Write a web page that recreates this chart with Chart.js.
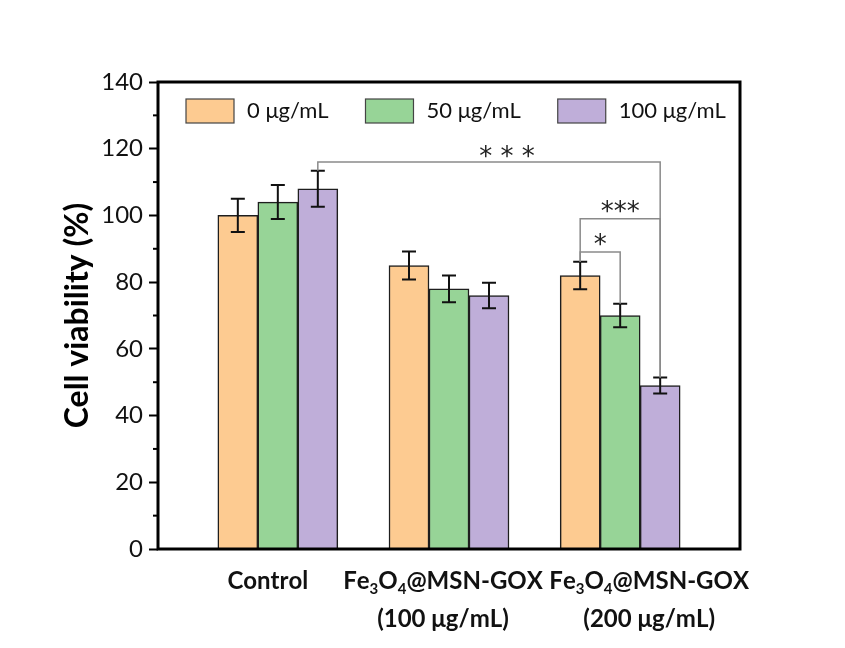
<!DOCTYPE html>
<html><head><meta charset="utf-8">
<script src="https://cdn.jsdelivr.net/npm/chart.js@4.4.0/dist/chart.umd.min.js"></script>
<style>html,body{margin:0;padding:0;background:#fff;}#wrap{width:845px;height:648px;}</style>
</head><body><div id="wrap"><canvas id="c" width="845" height="648"></canvas></div>
<script>
// ---- data ----
const categories = [["Control"], ["Fe₃O₄@MSN-GOX", "(100 μg/mL)"], ["Fe₃O₄@MSN-GOX", "(200 μg/mL)"]];
const seriesNames = ["0 μg/mL", "50 μg/mL", "100 μg/mL"];
const values0 = [100, 85, 82];
const values50 = [104, 78, 70];
const values100 = [108, 76, 49];
const errors0 = [5, 4.2, 4.1];
const errors50 = [5.1, 4, 3.5];
const errors100 = [5.4, 3.8, 2.4];
const yTickValues = [0, 20, 40, 60, 80, 100, 120, 140];
const sigLabels = ["* * *", "***", "*"];
const sigLevels = [116, 99, 89];
const sigFrom = [[2, 0], [0, 2], [0, 2]];
const sigTo = [[2, 2], [2, 2], [1, 2]];

// ---- styles ----
const fills = ["#FDCB91", "#97D497", "#BFAED9"];
const FONT = "Lato, 'Open Sans', sans-serif";
const allValues = [values0, values50, values100];
const allErrors = [errors0, errors50, errors100];

const datasets = seriesNames.map((name, d) => ({
  label: name,
  data: categories.map((c, i) => ({ x: i + 1, y: allValues[d][i] })),
  backgroundColor: fills[d],
  borderColor: "#1e1e1e",
  borderWidth: 1.5,
  borderSkipped: "bottom",
  barThickness: 40
}));

function drawRich(ctx, text, cx, cy, size) {
  const subs = "₀₁₂₃₄₅₆₇₈₉";
  const parts = [];
  for (const ch of text) {
    const si = subs.indexOf(ch);
    if (si >= 0) parts.push({ t: String(si), sub: true });
    else parts.push({ t: ch, sub: false });
  }
  const big = "bold " + size + "px " + FONT;
  const small = "bold " + Math.round(size * 0.62) + "px " + FONT;
  let w = 0;
  parts.forEach(p => { ctx.font = p.sub ? small : big; p.w = ctx.measureText(p.t).width; w += p.w; });
  let x = cx - w / 2;
  ctx.textAlign = "left";
  ctx.textBaseline = "alphabetic";
  const base = cy + size * 0.36;
  parts.forEach(p => {
    ctx.font = p.sub ? small : big;
    ctx.fillText(p.t, x, p.sub ? base + size * 0.22 : base);
    x += p.w;
  });
}

const decor = {
  id: "decor",
  afterDatasetsDraw(chart) {
    const ctx = chart.ctx;
    const ys = chart.scales.y;
    const a = chart.chartArea;
    const topOf = (d, i) => ys.getPixelForValue(allValues[d][i] + allErrors[d][i]);
    const xOf = (d, i) => chart.getDatasetMeta(d).data[i].x;
    ctx.save();
    // error bars
    ctx.strokeStyle = "#111";
    ctx.lineWidth = 2;
    for (let d = 0; d < 3; d++) {
      for (let i = 0; i < categories.length; i++) {
        const x = xOf(d, i);
        const y1 = ys.getPixelForValue(allValues[d][i] - allErrors[d][i]);
        const y2 = ys.getPixelForValue(allValues[d][i] + allErrors[d][i]);
        ctx.beginPath();
        ctx.moveTo(x, y1); ctx.lineTo(x, y2);
        ctx.moveTo(x - 7, y1); ctx.lineTo(x + 7, y1);
        ctx.moveTo(x - 7, y2); ctx.lineTo(x + 7, y2);
        ctx.stroke();
      }
    }
    // significance brackets
    const labelDx = [18, 0, 0];
    const labelUp = [11, 12, 13];
    for (let k = 0; k < sigLabels.length; k++) {
      const [da, ia] = sigFrom[k];
      const [db, ib] = sigTo[k];
      const xa = xOf(da, ia), xb = xOf(db, ib);
      const yl = ys.getPixelForValue(sigLevels[k]);
      ctx.strokeStyle = "#8a8a8a";
      ctx.lineWidth = 1.5;
      ctx.beginPath();
      ctx.moveTo(xa, topOf(da, ia));
      ctx.lineTo(xa, yl);
      ctx.lineTo(xb, yl);
      ctx.lineTo(xb, topOf(db, ib));
      ctx.stroke();
      ctx.fillStyle = "#222";
      ctx.font = "26px 'DejaVu Sans', sans-serif";
      ctx.textAlign = "center";
      ctx.textBaseline = "alphabetic";
      const txt = sigLabels[k];
      const m = ctx.measureText(txt);
      const cyT = yl - labelUp[k];
      ctx.fillText(txt, (xa + xb) / 2 + labelDx[k], cyT + (m.actualBoundingBoxAscent - m.actualBoundingBoxDescent) / 2);
    }
    // minor ticks
    ctx.strokeStyle = "#000";
    ctx.lineWidth = 2;
    for (let v = 10; v < 140; v += 20) {
      const y = ys.getPixelForValue(v);
      ctx.beginPath(); ctx.moveTo(a.left - 5, y); ctx.lineTo(a.left, y); ctx.stroke();
    }
    // frame
    ctx.lineWidth = 3;
    ctx.strokeStyle = "#000";
    ctx.strokeRect(a.left, a.top, a.right - a.left, a.bottom - a.top);
    // legend
    ctx.font = "22px " + FONT;
    ctx.textBaseline = "middle";
    ctx.textAlign = "left";
    let lx = 186;
    const ly = 99;
    for (let d = 0; d < 3; d++) {
      ctx.fillStyle = fills[d];
      ctx.fillRect(lx, ly, 48, 24);
      ctx.strokeStyle = "#444";
      ctx.lineWidth = 1.2;
      ctx.strokeRect(lx, ly, 48, 24);
      ctx.fillStyle = "#111";
      ctx.fillText(seriesNames[d], lx + 61, ly + 12);
      lx += 61 + ctx.measureText(seriesNames[d]).width + 37;
    }
    // x category labels
    const offs = [-10, -6, 29];
    ctx.fillStyle = "#111";
    categories.forEach((lines, i) => {
      const cx = chart.scales.x.getPixelForValue(i + 1) + offs[i];
      lines.forEach((ln, j) => drawRich(ctx, ln, cx, 580 + j * 38, 24));
    });
    ctx.restore();
  }
};

new Chart(document.getElementById("c"), {
  type: "bar",
  data: { datasets },
  options: {
    responsive: false,
    animation: false,
    layout: { padding: { left: 58, right: 105, top: 82, bottom: 99 } },
    plugins: { legend: { display: false }, tooltip: { enabled: false } },
    scales: {
      x: { type: "linear", min: 0.3, max: 3.7, display: false, offset: false },
      y: {
        min: 0, max: 140,
        afterBuildTicks: s => { s.ticks = yTickValues.map(v => ({ value: v })); },
        afterFit: s => { s.width = 100; },
        border: { display: false },
        grid: { drawOnChartArea: false, drawTicks: true, tickLength: 9, tickWidth: 2, tickColor: "#000" },
        ticks: { font: { family: FONT, size: 24 }, color: "#111", padding: 6 },
        title: { display: true, text: "Cell viability (%)", font: { family: FONT, size: 32, weight: "bold" }, color: "#000", padding: 0 }
      }
    }
  },
  plugins: [decor]
});
</script></body></html>
